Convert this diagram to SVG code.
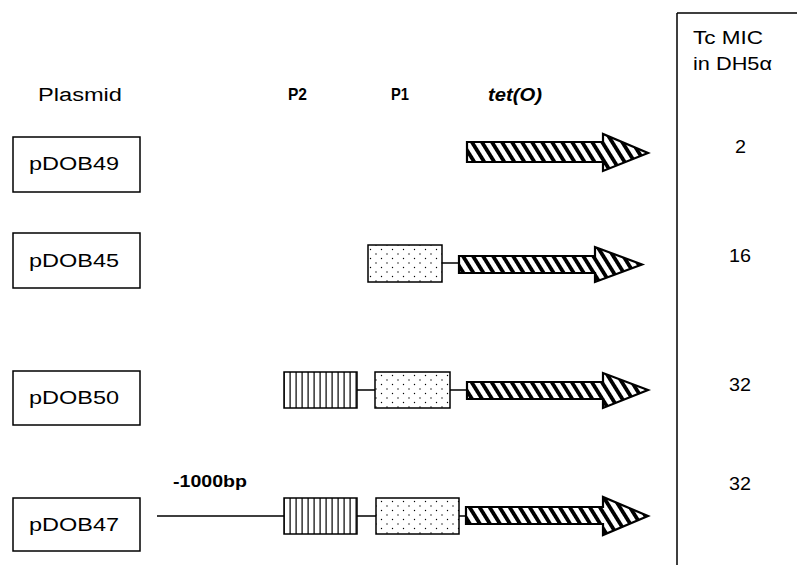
<svg xmlns="http://www.w3.org/2000/svg" width="797" height="565" viewBox="0 0 797 565">
<style>
.t{font-family:"Liberation Sans",Arial,sans-serif;font-size:18px;fill:#000}
.b{font-weight:bold;font-size:17px}
.bi{font-weight:bold;font-style:italic;font-size:18px}
.box{fill:#fff;stroke:#000;stroke-width:1.5}
.ln{stroke:#000;stroke-width:1.5;fill:none}
.arrow{fill:url(#diag);stroke:#000;stroke-width:2.2;stroke-linejoin:miter}
.p1{fill:url(#dots);stroke:#000;stroke-width:1.5}
.p2{fill:url(#vert);stroke:#000;stroke-width:1.5}
</style>
<defs>
<pattern id="diag" width="8.5" height="10" patternUnits="userSpaceOnUse" patternTransform="rotate(-32)">
<rect width="8.5" height="10" fill="#fff"/>
<rect x="0" y="0" width="3.8" height="10" fill="#000"/>
</pattern>
<pattern id="vert" width="6" height="10" patternUnits="userSpaceOnUse">
<rect width="6" height="10" fill="#fff"/>
<rect x="1.5" y="0" width="1.2" height="10" fill="#000"/>
</pattern>
<pattern id="dots" width="11" height="9" patternUnits="userSpaceOnUse">
<rect width="11" height="9" fill="#fff"/>
<circle cx="2" cy="2" r="0.7" fill="#000"/>
<circle cx="7.5" cy="6.5" r="0.7" fill="#000"/>
</pattern>
</defs>

<g id="table">
<path class="ln" d="M677,13 V565 M677,13 H797"/>
<text class="t" x="693" y="44" textLength="70" lengthAdjust="spacingAndGlyphs">Tc MIC</text>
<text class="t" x="693" y="70" textLength="79" lengthAdjust="spacingAndGlyphs">in DH5α</text>
</g>

<g id="headers">
<text class="t" x="38" y="101" textLength="84" lengthAdjust="spacingAndGlyphs">Plasmid</text>
<text class="t b" x="288" y="100" textLength="19" lengthAdjust="spacingAndGlyphs">P2</text>
<text class="t b" x="391" y="100" textLength="18" lengthAdjust="spacingAndGlyphs">P1</text>
<text class="t bi" x="488" y="101" textLength="54" lengthAdjust="spacingAndGlyphs">tet(O)</text>
</g>

<g id="connectors">
<path class="ln" d="M442,263 H459"/>
<path class="ln" d="M357,390 H375 M450,390 H467"/>
<path class="ln" d="M157,516 H284 M357,516 H376 M459,516 H466"/>
</g>

<g id="pDOB49">
<rect class="box" x="13" y="137" width="127" height="55"/>
<text class="t" x="29" y="170" textLength="90" lengthAdjust="spacingAndGlyphs">pDOB49</text>
<path class="arrow" d="M467,142 H603 V134 L648,153 L603,171 V162 H467 Z"/>
<text class="t" x="735" y="153" textLength="11" lengthAdjust="spacingAndGlyphs">2</text>
</g>

<g id="pDOB45">
<rect class="box" x="13" y="233" width="127" height="55"/>
<text class="t" x="29" y="267" textLength="90" lengthAdjust="spacingAndGlyphs">pDOB45</text>
<rect class="p1" x="368" y="245" width="74" height="37"/>
<path class="arrow" d="M459,256 H595 V247 L642,264.5 L595,282 V273 H459 Z"/>
<text class="t" x="729" y="262" textLength="22" lengthAdjust="spacingAndGlyphs">16</text>
</g>

<g id="pDOB50">
<rect class="box" x="13" y="371" width="127" height="54"/>
<text class="t" x="29" y="404" textLength="90" lengthAdjust="spacingAndGlyphs">pDOB50</text>
<rect class="p2" x="284" y="372" width="73" height="36"/>
<rect class="p1" x="375" y="372" width="75" height="36"/>
<path class="arrow" d="M467,382 H603 V373 L648,390 L603,408 V399 H467 Z"/>
<text class="t" x="729" y="391" textLength="22" lengthAdjust="spacingAndGlyphs">32</text>
</g>

<g id="pDOB47">
<rect class="box" x="13" y="498" width="127" height="53"/>
<text class="t" x="29" y="531" textLength="90" lengthAdjust="spacingAndGlyphs">pDOB47</text>
<text class="t b" x="173" y="487" textLength="74" lengthAdjust="spacingAndGlyphs">-1000bp</text>
<rect class="p2" x="284" y="498" width="73" height="36"/>
<rect class="p1" x="376" y="498" width="83" height="36"/>
<path class="arrow" d="M466,507 H603 V497 L648,516 L603,535 V524 H466 Z"/>
<text class="t" x="729" y="490" textLength="22" lengthAdjust="spacingAndGlyphs">32</text>
</g>
</svg>
